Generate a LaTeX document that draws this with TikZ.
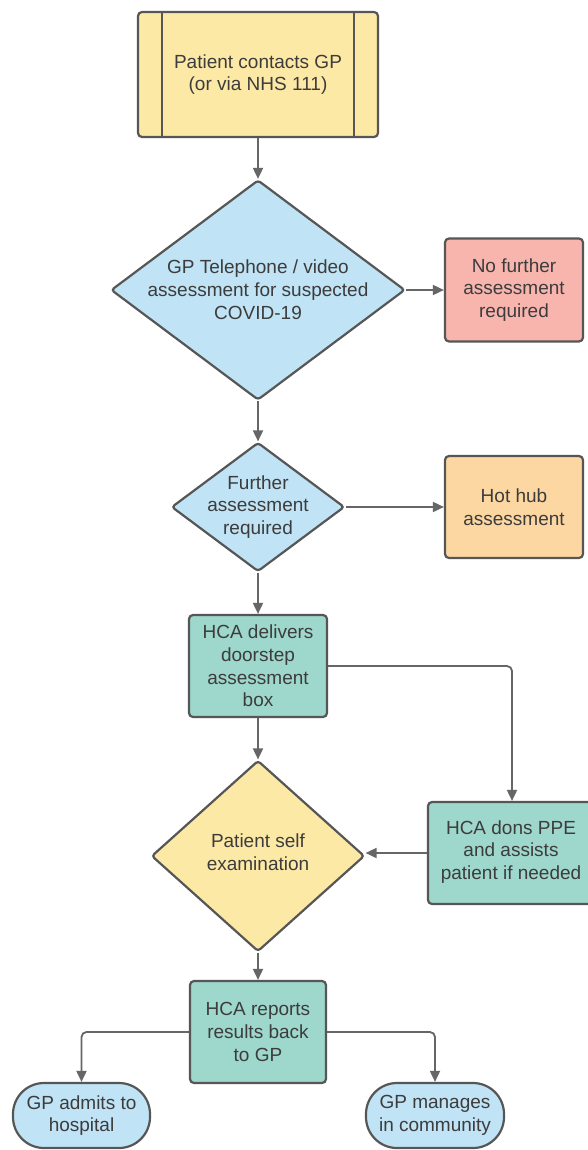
\documentclass[tikz,border=0pt]{standalone}
\usepackage{fontspec}
\setmainfont{Liberation Sans}
\usetikzlibrary{arrows.meta,shapes.geometric}
\definecolor{cyel}{HTML}{FDE9A6}
\definecolor{cblue}{HTML}{C0E3F5}
\definecolor{cred}{HTML}{F8B5AE}
\definecolor{corange}{HTML}{FCD7A2}
\definecolor{cteal}{HTML}{9ED7CC}
\definecolor{cborder}{HTML}{565656}
\definecolor{cline}{HTML}{666666}
\definecolor{ctext}{HTML}{3C3C3C}
\tikzset{
  base/.style={draw=cborder, line width=2.2pt, inner sep=0pt},
  boxst/.style={base, rectangle, rounded corners=4pt},
  diast/.style={base, diamond, rounded corners=3pt},
  stadst/.style={base, rectangle, rounded corners=31pt},
  lbl/.style={text=ctext, align=center, font=\fontsize{19}{22.8}\selectfont},
  conn/.style={draw=cline, line width=1.8pt, rounded corners=5pt, -{Triangle[length=11pt,width=10pt]}},
}
\begin{document}
\begin{tikzpicture}[x=1pt,y=-1pt]
\useasboundingbox[fill=white] (0,0) rectangle (588,1150);
% top process box
\node[boxst, fill=cyel, minimum width=240pt, minimum height=125pt] (p) at (258,74.5) {};
\draw[cborder, line width=2.2pt] ([xshift=25pt]p.north west) -- ([xshift=25pt]p.south west);
\draw[cborder, line width=2.2pt] ([xshift=-25pt]p.north east) -- ([xshift=-25pt]p.south east);
\node[lbl] (pt) at (p) {Patient contacts GP\\(or via NHS 111)};
% diamond 1
\node[diast, fill=cblue, minimum width=294pt, minimum height=220pt] (d1) at (258,290) {};
\node[lbl] (d1t) at (d1) {GP Telephone / video\\assessment for suspected\\COVID-19};
% red box
\node[boxst, fill=cred, minimum width=138pt, minimum height=103pt] (nf) at (514,290) {};
\node[lbl] (nft) at (nf) {No further\\assessment\\required};
% diamond 2
\node[diast, fill=cblue, minimum width=173pt, minimum height=129pt] (d2) at (258,507) {};
\node[lbl] (d2t) at (d2) {Further\\assessment\\required};
% hot hub
\node[boxst, fill=corange, minimum width=138pt, minimum height=102pt] (hh) at (514,507) {};
\node[lbl] (hht) at (hh) {Hot hub\\assessment};
% HCA delivers
\node[boxst, fill=cteal, minimum width=138pt, minimum height=102pt] (hd) at (258,666) {};
\node[lbl] (hdt) at (hd) {HCA delivers\\doorstep\\assessment\\box};
% diamond 3
\node[diast, fill=cyel, minimum width=213pt, minimum height=191pt] (d3) at (258,856) {};
\node[lbl] (d3t) at (258,852) {Patient self\\examination};
% HCA dons PPE
\node[boxst, fill=cteal, minimum width=168pt, minimum height=102pt] (dp) at (512,853) {};
\node[lbl] (dpt) at (511,852) {HCA dons PPE\\and assists\\patient if needed};
% HCA reports
\node[boxst, fill=cteal, minimum width=136pt, minimum height=102pt] (hr) at (258,1032) {};
\node[lbl] (hrt) at (hr) {HCA reports\\results back\\to GP};
% stadiums
\node[stadst, fill=cblue, minimum width=137pt, minimum height=65pt] (ga) at (81.5,1115.5) {};
\node[lbl] (gat) at (ga) {GP admits to\\hospital};
\node[stadst, fill=cblue, minimum width=138pt, minimum height=65pt] (gm) at (435,1115.5) {};
\node[lbl] (gmt) at (gm) {GP manages\\in community};
% connectors
\draw[conn] (p.south) -- (d1.north);
\draw[conn] (d1.east) -- (nf.west);
\draw[conn] (d1.south) -- (d2.north);
\draw[conn] (d2.east) -- (hh.west);
\draw[conn] (d2.south) -- (hd.north);
\draw[conn] (hd.east) -| (dp.north);
\draw[conn] (hd.south) -- (d3.north);
\draw[conn] (dp.west) -- (d3.east |- dp.west);
\draw[conn] (d3.south) -- (hr.north);
\draw[conn] (hr.west) -| (ga.north);
\draw[conn] (hr.east) -| (gm.north);
\end{tikzpicture}
\end{document}
